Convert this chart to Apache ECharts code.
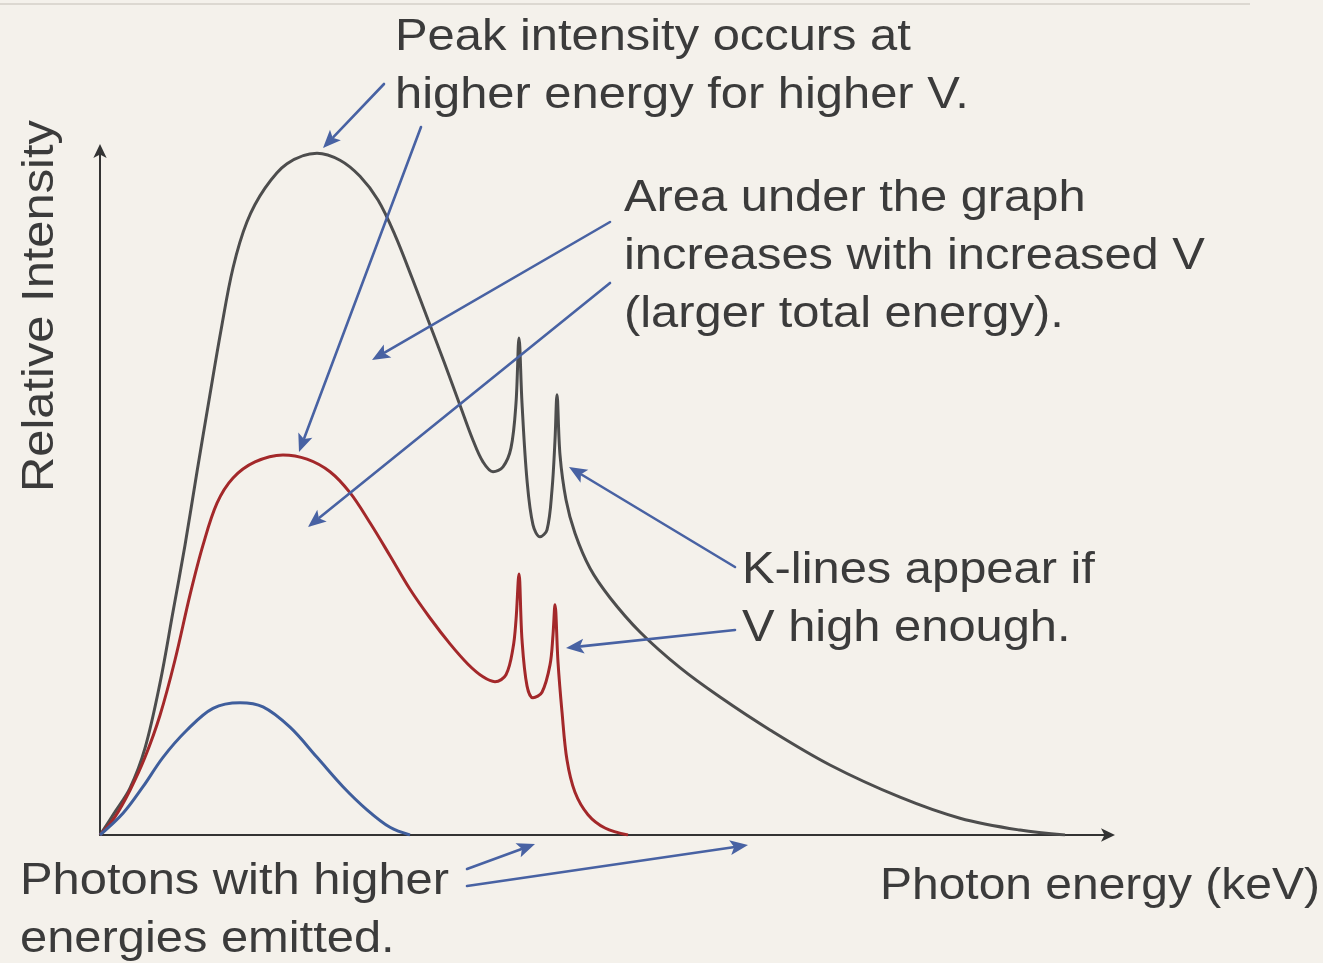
<!DOCTYPE html>
<html>
<head>
<meta charset="utf-8">
<script src="https://cdn.jsdelivr.net/npm/echarts@6/dist/echarts.min.js"></script>
<style>
html,body{margin:0;padding:0;background:#f4f1eb;}
#c{width:1323px;height:963px;}
</style>
</head>
<body>
<div id="c"></div>
<script>
// ---- Data (arbitrary units: energy 0..101, intensity 0..98) ----
const grayEnergy    = [0, 1.5, 3.0, 4.5, 6.0, 7.3, 8.5, 9.7, 10.9, 12.1, 13.3, 14.7, 16.5, 18.7, 21.7, 24.0, 26.0, 27.8, 29.5, 31.2, 32.8, 34.4, 36.0, 37.3, 38.3, 39.3, 40.3, 41.1, 41.6, 41.9, 42.2, 42.7, 43.3, 44.0, 44.7, 45.2, 45.5, 45.7, 46.0, 46.6, 47.5, 49.0, 51.0, 54.0, 58.0, 62.0, 67.0, 73.0, 80.0, 86.0, 92.0, 96.5];
const grayIntensity = [0, 3.3, 6.7, 12.4, 21.7, 31.9, 41.4, 51.9, 62.1, 72.1, 81.0, 87.6, 92.4, 95.9, 97.4, 96.4, 94.1, 90.7, 85.7, 79.6, 73.6, 67.6, 61.4, 56.4, 53.3, 51.9, 52.6, 55.3, 61.7, 71.0, 61.7, 50.7, 44.3, 42.6, 43.6, 49.3, 56.4, 62.9, 54.3, 47.9, 43.1, 38.1, 33.9, 29.0, 23.9, 19.7, 15.0, 10.0, 5.4, 2.4, 0.7, 0];

const redEnergy    = [0, 1.5, 3.0, 4.5, 6.0, 7.5, 9.0, 10.3, 11.7, 13.3, 15.5, 18.3, 20.7, 23.0, 25.0, 27.0, 29.0, 31.0, 33.0, 35.0, 36.8, 38.3, 39.5, 40.6, 41.3, 41.6, 41.9, 42.2, 42.7, 43.3, 44.2, 45.0, 45.3, 45.5, 45.8, 46.2, 46.7, 47.5, 48.8, 50.5, 52.8];
const redIntensity = [0, 2.6, 6.4, 11.1, 17.1, 25.0, 34.3, 41.4, 47.4, 51.0, 53.3, 54.3, 53.7, 51.9, 48.9, 44.6, 39.9, 35.1, 31.0, 27.3, 24.4, 22.6, 21.9, 22.9, 26.7, 30.7, 37.3, 27.9, 21.3, 19.6, 20.4, 24.3, 28.6, 32.9, 24.7, 17.6, 10.7, 6.1, 2.9, 1.0, 0];

const blueEnergy    = [0, 2.3, 4.3, 6.3, 8.7, 11.3, 14.0, 16.3, 19.0, 21.7, 24.3, 26.7, 29.0, 31.0];
const blueIntensity = [0, 3.1, 6.9, 11.1, 15.0, 18.1, 18.9, 18.3, 15.4, 11.1, 6.9, 3.6, 1.1, 0];

const xAxisTitle = 'Photon energy (keV)';
const yAxisTitle = 'Relative Intensity';

const noteTexts = [
  ['Peak intensity occurs at', 'higher energy for higher V.'],
  ['Area under the graph', 'increases with increased V', '(larger total energy).'],
  ['K-lines appear if', 'V high enough.'],
  ['Photons with higher', 'energies emitted.']
];

// ---- Layout (pixels) ----
const noteLayout = [
  {x: 395, y: 38},
  {x: 624, y: 199},
  {x: 742, y: 571},
  {x: 20,  y: 882}
];
const lineGap = 58;
const arrows = [
  [384, 84, 323, 148],
  [421, 127, 299, 452],
  [610, 222, 372, 360],
  [610, 283, 308, 527],
  [735, 567, 569, 467],
  [735, 630, 566, 648],
  [467, 869, 535, 844],
  [467, 886, 748, 845]
];

function pairs(xs, ys){ return xs.map((x,i)=>[x, ys[i]]); }

const chart = echarts.init(document.getElementById('c'), null, {renderer:'canvas'});

const textColor = '#3b3b3b';
const arrowColor = '#4862a3';
const FONT = '44px "Liberation Sans", Arial, sans-serif';
const SX = 1.11;

const graphics = [];
graphics.push({type:'line', shape:{x1:0,y1:4,x2:1250,y2:4}, style:{stroke:'#dcd8d1', lineWidth:2}, silent:true});

noteTexts.forEach((lines, k) => {
  lines.forEach((t, i) => {
    graphics.push({
      type:'text', x: noteLayout[k].x, y: noteLayout[k].y + i*lineGap, scaleX: SX,
      style:{text:t, font:FONT, fill:textColor, align:'left', verticalAlign:'middle'}, z:10
    });
  });
});
graphics.push({type:'text', x:880, y:887, scaleX:1.09,
  style:{text:xAxisTitle, font:FONT, fill:textColor, align:'left', verticalAlign:'middle'}, z:10});
graphics.push({type:'text', x:41, y:306, scaleX:SX, rotation:Math.PI/2,
  style:{text:yAxisTitle, font:FONT, fill:textColor, align:'center', verticalAlign:'middle'}, z:10});

arrows.forEach(a => {
  const [sx, sy, tx, ty] = a;
  const dx = tx - sx, dy = ty - sy, len = Math.hypot(dx, dy);
  const ux = dx/len, uy = dy/len, nx = -uy, ny = ux;
  const L = 18, W = 7.5;
  const bx = tx - ux*L, by = ty - uy*L;
  const nbx = tx - ux*(L-4), nby = ty - uy*(L-4);
  graphics.push({type:'line', shape:{x1:sx, y1:sy, x2:bx+ux*3, y2:by+uy*3},
    style:{stroke:arrowColor, lineWidth:2.6, lineCap:'round'}, z:20, silent:true});
  graphics.push({type:'polygon', shape:{points:[[tx,ty],[bx+nx*W,by+ny*W],[nbx,nby],[bx-nx*W,by-ny*W]]},
    style:{fill:arrowColor}, z:20, silent:true});
});

chart.setOption({
  backgroundColor:'#f4f1eb',
  animation:false,
  grid:{left:100, right:213, top:149, bottom:128, containLabel:false},
  xAxis:{type:'value', min:0, max:101,
    axisLine:{show:true, symbol:['none','arrow'], symbolSize:[10,14], symbolOffset:[0,5], lineStyle:{color:'#333333', width:2}},
    axisTick:{show:false}, axisLabel:{show:false}, splitLine:{show:false}},
  yAxis:{type:'value', min:0, max:98,
    axisLine:{show:true, symbol:['none','arrow'], symbolSize:[10,14], symbolOffset:[0,5], lineStyle:{color:'#333333', width:2}},
    axisTick:{show:false}, axisLabel:{show:false}, splitLine:{show:false}},
  series:[
    {name:'High V', type:'line', data:pairs(grayEnergy, grayIntensity), smooth:0.35, symbol:'none',
      lineStyle:{color:'#4d4d4d', width:3}, z:3},
    {name:'Medium V', type:'line', data:pairs(redEnergy, redIntensity), smooth:0.35, symbol:'none',
      lineStyle:{color:'#a3282a', width:3}, z:4},
    {name:'Low V', type:'line', data:pairs(blueEnergy, blueIntensity), smooth:0.35, symbol:'none',
      lineStyle:{color:'#3f5e9c', width:3}, z:5}
  ],
  graphic:graphics
});
</script>
</body>
</html>
